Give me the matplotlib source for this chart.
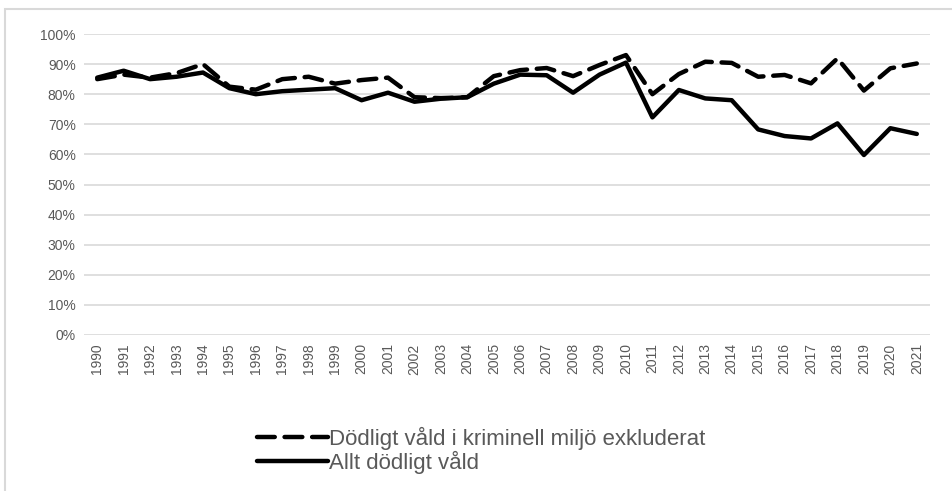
import matplotlib
matplotlib.use("Agg")
import matplotlib.pyplot as plt
from matplotlib.patches import Rectangle
from matplotlib.lines import Line2D

years = [str(y) for y in range(1990, 2022)]
excl_criminal = [85.0, 86.5, 85.5, 87.0, 90.0, 82.5, 81.5, 85.0, 85.8, 83.5,
                 84.7, 85.5, 79.0, 78.7, 79.0, 86.0, 88.0, 88.7, 86.0, 89.7,
                 93.0, 80.0, 86.7, 90.8, 90.4, 85.8, 86.4, 83.6, 91.9, 81.2,
                 88.6, 90.2]
all_violence = [85.5, 87.8, 85.0, 85.8, 87.2, 82.0, 80.0, 81.0, 81.5, 82.0,
                78.0, 80.5, 77.5, 78.5, 79.0, 83.5, 86.5, 86.3, 80.5, 86.5,
                90.5, 72.3, 81.4, 78.6, 78.0, 68.3, 66.1, 65.3, 70.3, 59.8,
                68.7, 66.8]
label_excl = "Dödligt våld i kriminell miljö exkluderat"
label_all = "Allt dödligt våld"
yticks = list(range(0, 101, 10))

plt.rcParams['font.family'] = ['Liberation Sans', 'DejaVu Sans']

W, H = 952, 491
fig = plt.figure(figsize=(W / 100, H / 100), dpi=100)
fig.patch.set_facecolor('white')

# outer chart border (light gray, runs off right/bottom)
fig.patches.append(Rectangle((5 / W, -0.1), 1.2, 1 - 9 / H + 0.1,
                             transform=fig.transFigure, fill=False,
                             edgecolor='#d9d9d9', linewidth=1.5))

ax = fig.add_axes([84 / W, 1 - 335 / H, (930 - 84) / W, (335 - 34) / H])
x = list(range(len(years)))
dash = (0, (4, 2.2))
ax.plot(x, excl_criminal, color='black', linewidth=3.2,
        linestyle=dash, dash_capstyle='round', solid_capstyle='round')
ax.plot(x, all_violence, color='black', linewidth=3.2,
        solid_capstyle='round', solid_joinstyle='round')

ax.set_xlim(-0.5, len(years) - 0.5)
ax.set_ylim(0, 100)
ax.set_yticks(yticks)
ax.set_yticklabels([f"{v}%" for v in yticks])
ax.set_xticks(x)
ax.set_xticklabels(years, rotation=90)
ax.tick_params(axis='both', length=0, colors='#595959', labelsize=10)
ax.tick_params(axis='y', pad=6)
ax.tick_params(axis='x', pad=6)
for s in ax.spines.values():
    s.set_visible(False)
ax.grid(axis='y', color='#d9d9d9', linewidth=1.2)
ax.set_axisbelow(True)

handles = [Line2D([], [], color='black', linewidth=3.2, linestyle=dash,
                  dash_capstyle='round'),
           Line2D([], [], color='black', linewidth=3.2, solid_capstyle='round')]
fig.legend(handles, [label_excl, label_all], loc='upper left',
           bbox_to_anchor=(246 / W, 1 - 416 / H), frameon=False,
           fontsize=16, handlelength=3.2, handletextpad=0.05,
           labelspacing=0.03, borderpad=0, labelcolor='#595959')

fig.savefig('out.png', dpi=100)
